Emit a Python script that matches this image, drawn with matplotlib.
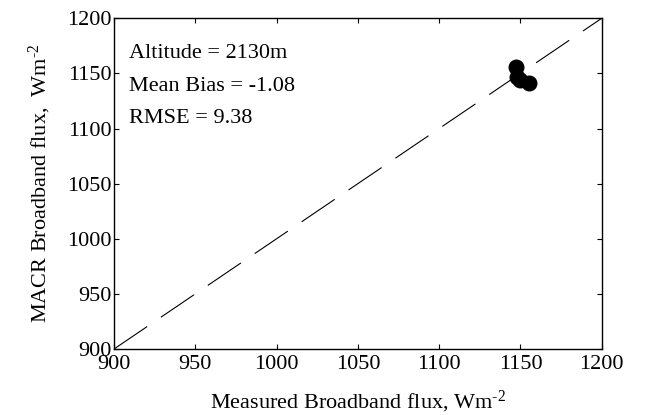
import matplotlib
matplotlib.use("Agg")
import matplotlib.pyplot as plt

plt.rcParams['font.family'] = ['Liberation Serif', 'DejaVu Serif']
plt.rcParams['mathtext.default'] = 'regular'
plt.rcParams['mathtext.fontset'] = 'custom'
plt.rcParams['mathtext.rm'] = 'Liberation Serif'

# measured vs modelled broadband flux at the site
measured = [1147.5, 1148.0, 1150.0, 1155.0]
macr = [1155.5, 1146.5, 1144.0, 1141.0]
ticks = [900, 950, 1000, 1050, 1100, 1150, 1200]
stats = ["Altitude = 2130m", "Mean Bias = -1.08", "RMSE = 9.38"]

fig = plt.figure(figsize=(6.46, 4.15), dpi=100)
ax = fig.add_axes([0.1765, 0.159, 0.755, 0.797])

# 1:1 reference line
ax.plot([ticks[0], ticks[-1]], [ticks[0], ticks[-1]], color='black',
        linewidth=0.8, dashes=(36, 15))
ax.plot(measured, macr, 'o', color='black', markersize=10.5)

ax.set_xlim(ticks[0], ticks[-1])
ax.set_ylim(ticks[0], ticks[-1])
ax.set_xticks(ticks)
ax.set_yticks(ticks)
ax.tick_params(direction='in', top=True, right=True, length=3.5,
               labelsize=16)
ax.tick_params(axis='x', pad=4)
ax.tick_params(axis='y', pad=2)
for s in ax.spines.values():
    s.set_linewidth(1.0)

ax.set_xlabel(r"Measured Broadband flux, Wm$^{\text{-2}}$", fontsize=16, labelpad=11)
ax.set_ylabel(r"MACR Broadband flux,  Wm$^{\text{-2}}$", fontsize=16, labelpad=10)

for i, t in enumerate(stats):
    ax.text(909, 1168 - i * 29.5, t, fontsize=16, va='center', ha='left')

fig.savefig("out.png", dpi=100)
